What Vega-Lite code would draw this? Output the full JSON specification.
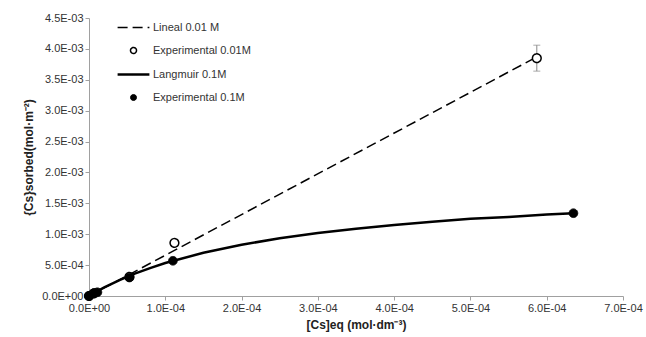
{
  "$schema": "https://vega.github.io/schema/vega-lite/v6.json",
  "width": 534,
  "height": 278,
  "autosize": {"type": "none"},
  "padding": {"left": 89, "top": 18, "right": 23, "bottom": 41},
  "background": "white",
  "config": {
    "view": {"stroke": null},
    "font": "Liberation Sans",
    "axis": {
      "grid": false,
      "domainColor": "#a0a0a0",
      "tickColor": "#a0a0a0",
      "tickSize": 4,
      "labelFontSize": 11,
      "labelColor": "#333333",
      "labelFlush": false,
      "labelOverlap": false,
      "titleFontSize": 12,
      "titleFontWeight": "bold",
      "titleColor": "#222222",
      "labelExpr": "replace(replace(format(datum.value, '.1e'), 'e-', 'E-0'), 'e+', 'E+0')"
    },
    "legend": {
      "labelFontSize": 11,
      "labelColor": "#333333",
      "padding": 0,
      "rowPadding": 11,
      "symbolSize": 36,
      "labelOffset": 14
    }
  },
  "datasets": {
    "lines": [
      {"series": "Lineal 0.01 M", "c": 0, "q": 0},
      {"series": "Lineal 0.01 M", "c": 0.000587, "q": 0.00387},
      {"series": "Langmuir 0.1M", "c": 0, "q": 0},
      {"series": "Langmuir 0.1M", "c": 0.00001, "q": 0.0000717},
      {"series": "Langmuir 0.1M", "c": 0.00002, "q": 0.000138},
      {"series": "Langmuir 0.1M", "c": 0.00004, "q": 0.000257},
      {"series": "Langmuir 0.1M", "c": 0.00006, "q": 0.000361},
      {"series": "Langmuir 0.1M", "c": 0.00008, "q": 0.000452},
      {"series": "Langmuir 0.1M", "c": 0.0001, "q": 0.000533},
      {"series": "Langmuir 0.1M", "c": 0.00015, "q": 0.0007},
      {"series": "Langmuir 0.1M", "c": 0.0002, "q": 0.00083},
      {"series": "Langmuir 0.1M", "c": 0.00025, "q": 0.000934},
      {"series": "Langmuir 0.1M", "c": 0.0003, "q": 0.00102},
      {"series": "Langmuir 0.1M", "c": 0.00035, "q": 0.00109},
      {"series": "Langmuir 0.1M", "c": 0.0004, "q": 0.00115},
      {"series": "Langmuir 0.1M", "c": 0.00045, "q": 0.0012},
      {"series": "Langmuir 0.1M", "c": 0.0005, "q": 0.00125},
      {"series": "Langmuir 0.1M", "c": 0.00055, "q": 0.00128},
      {"series": "Langmuir 0.1M", "c": 0.0006, "q": 0.00132},
      {"series": "Langmuir 0.1M", "c": 0.000635, "q": 0.00134}
    ],
    "points": [
      {"series": "Experimental 0.01M", "c": 0, "q": 0},
      {"series": "Experimental 0.01M", "c": 0.000006, "q": 0.00004},
      {"series": "Experimental 0.01M", "c": 0.000053, "q": 0.00031},
      {"series": "Experimental 0.01M", "c": 0.000112, "q": 0.00086},
      {"series": "Experimental 0.01M", "c": 0.000587, "q": 0.00385},
      {"series": "Experimental 0.1M", "c": 0, "q": 0},
      {"series": "Experimental 0.1M", "c": 0.000007, "q": 0.00005},
      {"series": "Experimental 0.1M", "c": 0.000011, "q": 0.00006},
      {"series": "Experimental 0.1M", "c": 0.000053, "q": 0.0003},
      {"series": "Experimental 0.1M", "c": 0.00011, "q": 0.00057},
      {"series": "Experimental 0.1M", "c": 0.000635, "q": 0.00134}
    ],
    "errors": [
      {"c": 0.000587, "q": 0.00364, "q2": 0.00406}
    ]
  },
  "encoding": {
    "x": {"field": "c", "type": "quantitative", "scale": {"domain": [0, 0.0007], "nice": false},
      "axis": {"title": "[Cs]eq (mol·dm⁻³)", "values": [0, 0.0001, 0.0002, 0.0003, 0.0004, 0.0005, 0.0006, 0.0007], "titlePadding": 6}},
    "y": {"field": "q", "type": "quantitative", "scale": {"domain": [0, 0.0045], "nice": false},
      "axis": {"title": "{Cs}sorbed(mol·m⁻²)", "values": [0, 0.0005, 0.001, 0.0015, 0.002, 0.0025, 0.003, 0.0035, 0.004, 0.0045], "titlePadding": 6}}
  },
  "layer": [
    {
      "data": {"name": "errors"},
      "mark": {"type": "errorbar", "color": "#888888", "ticks": {"size": 7, "thickness": 1}, "thickness": 1},
      "encoding": {
        "y2": {"field": "q2"}
      }
    },
    {
      "data": {"name": "lines"},
      "transform": [{"filter": "datum.series == 'Lineal 0.01 M'"}],
      "mark": {"type": "line", "color": "black", "strokeDash": [10, 5], "strokeWidth": 1.5},
      "encoding": {}
    },
    {
      "data": {"name": "lines"},
      "transform": [{"filter": "datum.series == 'Langmuir 0.1M'"}],
      "mark": {"type": "line", "color": "black", "strokeWidth": 2.5},
      "encoding": {}
    },
    {
      "data": {"name": "points"},
      "mark": {"type": "point", "opacity": 1, "size": 75},
      "encoding": {
        "shape": {"field": "series", "type": "nominal",
          "scale": {"domain": ["Lineal 0.01 M", "Experimental 0.01M", "Langmuir 0.1M", "Experimental 0.1M"],
                    "range": ["M-5.3,0H5.3", "circle", "M-5.3,0H5.3", "circle"]},
          "legend": {"title": null, "orient": "none", "legendX": 39, "legendY": 4}},
        "fill": {"field": "series", "type": "nominal",
          "scale": {"domain": ["Lineal 0.01 M", "Experimental 0.01M", "Langmuir 0.1M", "Experimental 0.1M"],
                    "range": ["black", "white", "black", "black"]},
          "legend": {"title": null, "orient": "none", "legendX": 39, "legendY": 4}},
        "stroke": {"field": "series", "type": "nominal",
          "scale": {"domain": ["Lineal 0.01 M", "Experimental 0.01M", "Langmuir 0.1M", "Experimental 0.1M"],
                    "range": ["black", "black", "black", "black"]},
          "legend": {"title": null, "orient": "none", "legendX": 39, "legendY": 4}},
        "strokeDash": {"field": "series", "type": "nominal",
          "scale": {"domain": ["Lineal 0.01 M", "Experimental 0.01M", "Langmuir 0.1M", "Experimental 0.1M"],
                    "range": [[10, 5], [1, 0], [1, 0], [1, 0]]},
          "legend": {"title": null, "orient": "none", "legendX": 39, "legendY": 4}},
        "strokeWidth": {"field": "series", "type": "nominal",
          "scale": {"type": "ordinal", "domain": ["Lineal 0.01 M", "Experimental 0.01M", "Langmuir 0.1M", "Experimental 0.1M"],
                    "range": [1.5, 1.5, 2.5, 1]},
          "legend": {"title": null, "orient": "none", "legendX": 39, "legendY": 4}}
      }
    }
  ]
}
